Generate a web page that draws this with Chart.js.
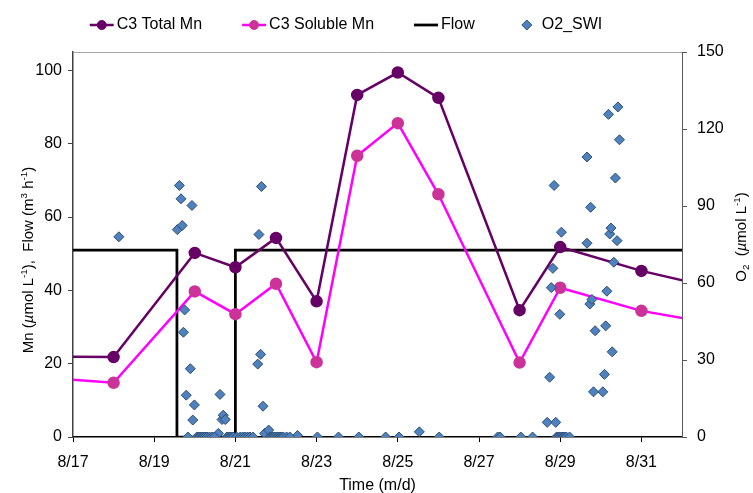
<!DOCTYPE html>
<html>
<head>
<meta charset="utf-8">
<script src="https://cdn.jsdelivr.net/npm/chart.js@4.4.0/dist/chart.umd.min.js"></script>
<style>
  html, body { margin: 0; padding: 0; background: #fff; }
  #wrap { width: 753px; height: 493px; }
</style>
</head>
<body>
<div id="wrap"><canvas id="myChart" width="753" height="493"></canvas></div>
<script>
// x values are days of August (32 = 9/1)
const dayTicks = [17, 19, 21, 23, 25, 27, 29, 31];

// C3 manganese samples
const mnDays = [16, 18, 20, 21, 22, 23, 24, 25, 26, 28, 29, 31, 33];
const totalMn = [22.0, 21.8, 50.2, 46.3, 54.3, 37.0, 93.3, 99.4, 92.5, 34.6, 51.8, 45.3, 40.2];
const solubleMn = [16.4, 14.8, 39.7, 33.5, 41.8, 20.4, 76.7, 85.6, 66.2, 20.3, 40.7, 34.4, 30.5];

// pump flow (m3/h), stepped
const flowDays = [16, 19.56, 19.56, 21.0, 21.0, 33];
const flowRate = [51, 51, 0, 0, 51, 51];

// O2 at the sediment-water interface (umol/L)
const o2Days = [
  18.13, 19.57, 19.62, 19.66, 19.69, 19.72, 19.75, 19.79, 19.89, 19.93, 19.95, 19.99,
  20.58, 20.62, 20.67, 20.70, 20.75,
  21.55, 21.58, 21.62, 21.64, 21.68, 21.72, 21.82, 22.53, 25.53,
  28.68, 28.74, 28.78, 28.82, 28.85, 28.89, 28.99, 29.03, 29.66, 29.66, 29.73, 29.75,
  29.78, 29.82, 29.86, 30.05, 30.09, 30.12, 30.15, 30.19, 30.22, 30.25, 30.28, 30.32,
  30.36, 30.40, 30.42, 30.46,
  19.83, 20.05, 20.10, 20.13, 20.17, 20.21, 20.25, 20.30, 20.36, 20.42, 20.48,
  20.79, 20.83, 20.87, 20.91, 20.95, 21.03, 21.12, 21.18, 21.24, 21.30, 21.36, 21.43,
  21.85, 21.89, 21.93, 21.97, 22.02, 22.06, 22.10, 22.14, 22.18, 22.26, 22.34,
  23.02, 23.54, 24.04, 24.70, 25.03, 26.02, 27.46, 27.52, 28.03, 28.32,
  28.91, 28.95, 28.99, 29.03, 29.07, 29.11, 29.15, 29.23
];
const o2Values = [
  78.0, 80.8, 98.0, 92.8, 82.4, 40.8, 49.5, 16.3, 26.6, 90.2, 6.6, 12.5,
  1.4, 16.6, 6.8, 8.5, 6.8,
  28.4, 78.9, 32.2, 97.6, 12.0, 1.4, 2.7, 0.6, 2.0,
  5.7, 23.3, 58.2, 65.7, 98.0, 5.7, 47.8, 79.8, 109.1, 75.5, 51.8, 89.5,
  53.6, 17.6, 41.4, 17.6, 24.4, 43.3, 56.8, 125.7, 79.1, 81.4, 33.2, 68.1,
  100.9, 76.5, 128.6, 115.8,
  0, 0, 0, 0, 0, 0, 0, 0, 0, 0, 0,
  0, 0, 0, 0, 0, 0, 0, 0, 0, 0, 0, 0,
  0, 0, 0, 0, 0, 0, 0, 0, 0, 0, 0,
  0, 0, 0, 0, 0, 0, 0, 0, 0, 0,
  0, 0, 0, 0, 0, 0, 0, 0
];

const FONT = 'Liberation Sans, Arial, sans-serif';
const pts = (xs, ys) => xs.map((x, i) => ({ x: x, y: ys[i] }));
const dayLabel = v => v <= 31 ? '8/' + v : '9/' + (v - 31);

// rotated axis title with sub/superscripts
function drawRich(ctx, parts, cx, cy, size) {
  const fontFor = k => {
    const s = (k === 'sup' || k === 'sub') ? size * 0.65 : size;
    return (k === 'i' ? 'italic ' : '') + s + 'px ' + FONT;
  };
  const widths = parts.map(([t, k]) => { ctx.font = fontFor(k); return ctx.measureText(t).width; });
  const total = widths.reduce((a, b) => a + b, 0);
  ctx.save();
  ctx.translate(cx, cy);
  ctx.rotate(-Math.PI / 2);
  ctx.fillStyle = '#000';
  ctx.textBaseline = 'middle';
  ctx.textAlign = 'left';
  let x = -total / 2;
  parts.forEach(([t, k], i) => {
    ctx.font = fontFor(k);
    const dy = k === 'sup' ? -size * 0.3 : (k === 'sub' ? size * 0.3 : 0);
    ctx.fillText(t, x, dy);
    x += widths[i];
  });
  ctx.restore();
}

const decor = {
  id: 'decor',
  afterDraw(chart) {
    const ctx = chart.ctx;
    const area = chart.chartArea;

    // plot area top edge
    ctx.save();
    ctx.strokeStyle = '#A6A6A6';
    ctx.lineWidth = 1;
    ctx.beginPath();
    ctx.moveTo(area.left, area.top + 0.5);
    ctx.lineTo(area.right, area.top + 0.5);
    ctx.stroke();
    ctx.restore();

    // y titles
    drawRich(ctx, [['Mn (', 'n'], ['\u00b5', 'i'], ['mol L', 'n'], ['-1', 'sup'], ['),  Flow (m', 'n'],
      ['3', 'sup'], [' h', 'n'], ['-1', 'sup'], [')', 'n']], 29, 260, 15);
    drawRich(ctx, [['O', 'n'], ['2', 'sub'], ['  (', 'n'], ['\u00b5', 'i'], ['mol L', 'n'], ['-1', 'sup'], [')', 'n']],
      742, 237, 15);

    // legend
    ctx.save();
    ctx.font = '16px ' + FONT;
    ctx.textBaseline = 'middle';
    ctx.fillStyle = '#000';
    const sample = 24, gap = 3, spacing = 40, ly = 25;
    const items = chart.data.datasets;
    const widths = items.map(ds => sample + gap + ctx.measureText(ds.label).width);
    const total = widths.reduce((a, b) => a + b, 0) + spacing * (items.length - 1);
    let x = 346 - total / 2;
    items.forEach((ds, i) => {
      if (ds.showLine) {
        ctx.strokeStyle = ds.borderColor;
        ctx.lineWidth = ds.borderWidth;
        ctx.beginPath();
        ctx.moveTo(x, ly);
        ctx.lineTo(x + sample, ly);
        ctx.stroke();
      }
      const cx = x + sample / 2;
      if (ds.pointRadius > 0) {
        ctx.fillStyle = ds.pointBackgroundColor;
        ctx.strokeStyle = ds.pointBorderColor;
        ctx.lineWidth = 1;
        ctx.beginPath();
        if (ds.pointStyle === 'rectRot') {
          const r = ds.pointRadius;
          ctx.moveTo(cx - r, ly); ctx.lineTo(cx, ly - r); ctx.lineTo(cx + r, ly); ctx.lineTo(cx, ly + r);
          ctx.closePath();
        } else {
          ctx.arc(cx, ly, ds.pointRadius - 0.5, 0, Math.PI * 2);
        }
        ctx.fill();
        ctx.stroke();
      }
      ctx.fillStyle = '#000';
      ctx.fillText(ds.label, x + sample + gap, ly);
      x += widths[i] + spacing;
    });
    ctx.restore();
  }
};

const tickFont = { family: FONT, size: 16 };

new Chart(document.getElementById('myChart'), {
  type: 'scatter',
  data: {
    datasets: [
      {
        label: 'C3 Total Mn',
        data: pts(mnDays, totalMn),
        showLine: true,
        borderColor: '#660066',
        borderWidth: 2.5,
        pointRadius: 5,
        pointBackgroundColor: '#660066',
        pointBorderColor: '#660066',
        pointStyle: 'circle',
        yAxisID: 'y',
        order: 1
      },
      {
        label: 'C3 Soluble Mn',
        data: pts(mnDays, solubleMn),
        showLine: true,
        borderColor: '#FF00FF',
        borderWidth: 2.5,
        pointRadius: 5,
        pointBackgroundColor: '#CC3399',
        pointBorderColor: '#CC3399',
        pointStyle: 'circle',
        yAxisID: 'y',
        order: 2
      },
      {
        label: 'Flow',
        data: pts(flowDays, flowRate),
        showLine: true,
        borderColor: '#000000',
        borderWidth: 2.75,
        pointRadius: 0,
        yAxisID: 'y',
        order: 3
      },
      {
        label: 'O2_SWI',
        data: pts(o2Days, o2Values),
        showLine: false,
        pointStyle: 'rectRot',
        pointRadius: 5,
        pointBackgroundColor: '#4F81BD',
        pointBorderColor: '#2C4D75',
        pointBorderWidth: 1,
        yAxisID: 'y2',
        order: 0
      }
    ]
  },
  options: {
    responsive: false,
    devicePixelRatio: 1,
    animation: false,
    layout: { padding: { top: 52, left: 0, right: 0, bottom: 0 } },
    plugins: {
      legend: { display: false },
      tooltip: { enabled: false }
    },
    scales: {
      x: {
        type: 'linear',
        min: 17,
        max: 32,
        afterBuildTicks: s => { s.ticks = dayTicks.map(v => ({ value: v })); },
        afterFit: s => { s.height = 56; },
        ticks: { callback: v => dayLabel(v), font: tickFont, color: '#000', padding: 11, maxRotation: 0, autoSkip: false },
        grid: { drawOnChartArea: false, tickLength: 5, tickColor: '#000' },
        border: { color: '#000', width: 1.5 },
        title: { display: true, text: 'Time (m/d)', font: { family: FONT, size: 16 }, color: '#000', padding: { top: 0, bottom: -2 } }
      },
      y: {
        position: 'left',
        min: 0,
        max: 105,
        afterBuildTicks: s => { s.ticks = [0, 20, 40, 60, 80, 100].map(v => ({ value: v })); },
        afterFit: s => { s.width = 73; },
        ticks: { font: tickFont, color: '#000', padding: 6 },
        grid: { drawOnChartArea: false, tickLength: 5, tickColor: '#404040' },
        border: { color: '#404040', width: 1.5 }
      },
      y2: {
        position: 'right',
        min: 0,
        max: 150,
        afterBuildTicks: s => { s.ticks = [0, 30, 60, 90, 120, 150].map(v => ({ value: v })); },
        afterFit: s => { s.width = 71; },
        ticks: { font: tickFont, color: '#000', padding: 10 },
        grid: { drawOnChartArea: false, tickLength: 5, tickColor: '#595959' },
        border: { color: '#595959', width: 1 }
      }
    }
  },
  plugins: [decor]
});
</script>
</body>
</html>
